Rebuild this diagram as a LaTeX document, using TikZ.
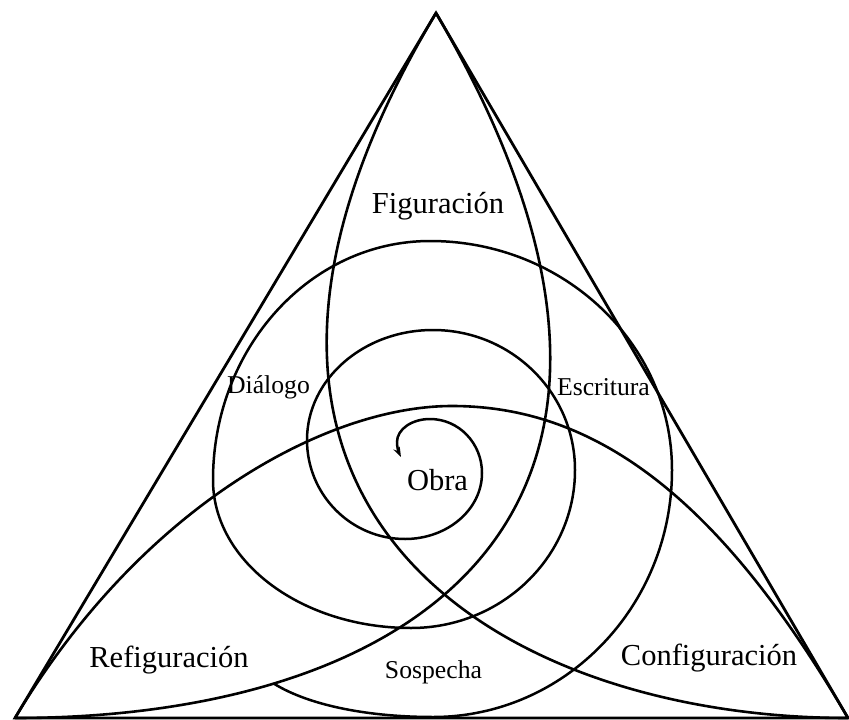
\documentclass[tikz,border=0pt]{standalone}
\usepackage{fontspec}
\setmainfont{Liberation Serif}
\usetikzlibrary{arrows.meta,calc}
\begin{document}
\begin{tikzpicture}[x=1pt,y=-1pt,
  edge/.style={line width=2.8pt, line join=miter},
  lobe/.style={line width=2.6pt},
  spiral/.style={line width=2.5pt},
  % quarter of an ellipse: hv leaves horizontally and arrives vertically, vh the reverse
  hv/.style={to path={.. controls ($(\tikztostart)!0.5523!(\tikztotarget |- \tikztostart)$)
      and ($(\tikztotarget)!0.5523!(\tikztotarget |- \tikztostart)$) .. (\tikztotarget)}},
  vh/.style={to path={.. controls ($(\tikztostart)!0.5523!(\tikztostart |- \tikztotarget)$)
      and ($(\tikztotarget)!0.5523!(\tikztostart |- \tikztotarget)$) .. (\tikztotarget)}},
  biglabel/.style={font=\fontsize{30.5}{36}\selectfont, anchor=base, inner sep=0pt},
  smalllabel/.style={font=\fontsize{25.7}{30}\selectfont, anchor=base, inner sep=0pt}]
\useasboundingbox (0,0) rectangle (849,720);
% vertices of the triangle
\coordinate (A) at (436,13);
\coordinate (B) at (15,718);
\coordinate (C) at (848,718);
\draw[edge] (A) -- (B) -- (C) -- cycle;
% the three inner curves, each joining two vertices and bowing toward the third
\draw[lobe] (A) .. controls (141.3,506.5) and (498.1,718) .. (C);
\draw[lobe] (A) .. controls (724.4,506.5) and (423.2,718) .. (B)
  coordinate[pos=0.77] (spEnd);
\coordinate (P) at (452,406);
\draw[lobe] (B) .. controls (141.3,506.5) and (326,406) .. (P)
  .. controls (602,406) and (724.4,506.5) .. (C);
% spiral, opening outward from the arrow tip
\coordinate (s0) at (401,457);
\coordinate (l0) at (397,442);
\coordinate (t1) at (430,419);
\coordinate (r1) at (482,473);
\coordinate (b1) at (405,539);
\coordinate (l1) at (307,440);
\coordinate (t2) at (433,330);
\coordinate (r2) at (575,470);
\coordinate (b2) at (411,628);
\coordinate (l2) at (213,480);
\coordinate (t3) at (430,241);
\coordinate (r3) at (672,470);
\coordinate (b3) at (433,717);
\draw[spiral, {Stealth[length=10pt,width=7pt]}-]
  (s0) .. controls (398.5,452) and (397,447) .. (l0)
  to[vh] (t1) to[hv] (r1) to[vh] (b1) to[hv] (l1)
  to[vh] (t2) to[hv] (r2) to[vh] (b2) to[hv] (l2)
  to[vh] (t3) to[hv] (r3) to[vh] (b3)
  .. controls (370,717) and (310,706) .. (spEnd);
% labels
\node[biglabel] (fig) at (438,213) {Figuración};
\node[biglabel] (obra) at (437.5,490) {Obra};
\node[biglabel] (refig) at (169,667) {Refiguración};
\node[biglabel] (config) at (709,665) {Configuración};
\node[smalllabel] (dial) at (268.5,393) {Diálogo};
\node[smalllabel] (escr) at (603.5,395) {Escritura};
\node[smalllabel] (sosp) at (433.5,678) {Sospecha};
\end{tikzpicture}
\end{document}
